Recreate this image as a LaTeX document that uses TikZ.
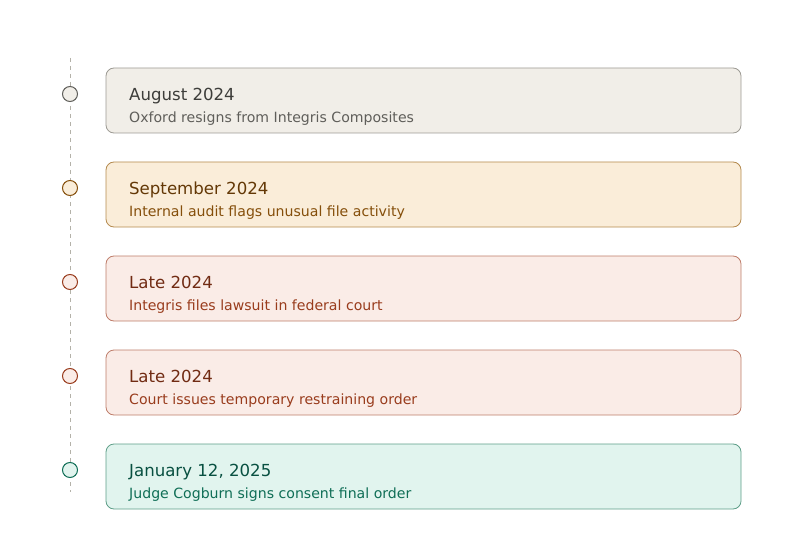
\documentclass[tikz,border=0pt]{standalone}
\usepackage{fontspec}
\setmainfont{DejaVu Sans}
\usepackage{xcolor}
\usetikzlibrary{positioning}

\definecolor{greyfill}{HTML}{F1EEE8}
\definecolor{greydraw}{HTML}{9C9A93}
\definecolor{greytitle}{HTML}{3D3D3A}
\definecolor{greytext}{HTML}{5F5E5A}
\definecolor{amberfill}{HTML}{FAEDD9}
\definecolor{amberdraw}{HTML}{B48A4E}
\definecolor{ambertitle}{HTML}{633806}
\definecolor{ambertext}{HTML}{854F0B}
\definecolor{coralfill}{HTML}{FAECE7}
\definecolor{coraldraw}{HTML}{BE7D6A}
\definecolor{coraltitle}{HTML}{712B13}
\definecolor{coraltext}{HTML}{993C1D}
\definecolor{tealfill}{HTML}{E1F4EE}
\definecolor{tealdraw}{HTML}{5E9E88}
\definecolor{tealtitle}{HTML}{085041}
\definecolor{tealtext}{HTML}{0F6E56}
\definecolor{railgrey}{HTML}{B4B2A9}

\tikzset{
  eventbox/.style={draw=#1draw, fill=#1fill, line width=0.8pt, rectangle, outer sep=0pt,
    rounded corners=8pt, minimum width=635pt, minimum height=65pt, inner sep=0pt},
  dot/.style={draw=#1text, fill=#1fill, line width=1pt, circle,
    minimum size=15pt, inner sep=0pt},
  evtitle/.style={text=#1title, font=\fontsize{16.6}{19}\selectfont, anchor=base west, inner sep=0pt},
  evtext/.style={text=#1text, font=\fontsize{14.1}{16}\selectfont, anchor=base west, inner sep=0pt},
  rail/.style={draw=railgrey, line width=0.8pt, dash pattern=on 4pt off 4pt}
}

\begin{document}
\begin{tikzpicture}[x=1pt, y=1pt]
\useasboundingbox (0,0) rectangle (800,-540);

% timeline rail
\coordinate (railtop) at (70,-58);
\coordinate (railbot) at (70,-492);
\draw[rail] (railtop) -- (railbot);

% events
\node[eventbox=grey] (aug) at (423.5,-100.5) {};
\node[eventbox=amber, below=29pt of aug] (sep) {};
\node[eventbox=coral, below=29pt of sep] (late) {};
\node[eventbox=coral, below=29pt of late] (tro) {};
\node[eventbox=teal, below=29pt of tro] (jan) {};

\node[dot=grey] (augdot) at (70,-94) {};
\node[dot=amber] (sepdot) at (70,-188) {};
\node[dot=coral] (latedot) at (70,-282) {};
\node[dot=coral] (trodot) at (70,-376) {};
\node[dot=teal] (jandot) at (70,-470) {};

\node[evtitle=grey] (augtitle) at ([xshift=23pt, yshift=0pt]aug.west) {August 2024};
\node[evtext=grey] (augtext) at ([xshift=23pt, yshift=-22pt]aug.west) {Oxford resigns from Integris Composites};

\node[evtitle=amber] (septitle) at ([xshift=23pt, yshift=0pt]sep.west) {September 2024};
\node[evtext=amber] (septext) at ([xshift=23pt, yshift=-22pt]sep.west) {Internal audit flags unusual file activity};

\node[evtitle=coral] (latetitle) at ([xshift=23pt, yshift=0pt]late.west) {Late 2024};
\node[evtext=coral] (latetext) at ([xshift=23pt, yshift=-22pt]late.west) {Integris files lawsuit in federal court};

\node[evtitle=coral] (trotitle) at ([xshift=23pt, yshift=0pt]tro.west) {Late 2024};
\node[evtext=coral] (trotext) at ([xshift=23pt, yshift=-22pt]tro.west) {Court issues temporary restraining order};

\node[evtitle=teal] (jantitle) at ([xshift=23pt, yshift=0pt]jan.west) {January 12, 2025};
\node[evtext=teal] (jantext) at ([xshift=23pt, yshift=-22pt]jan.west) {Judge Cogburn signs consent final order};
\end{tikzpicture}
\end{document}
